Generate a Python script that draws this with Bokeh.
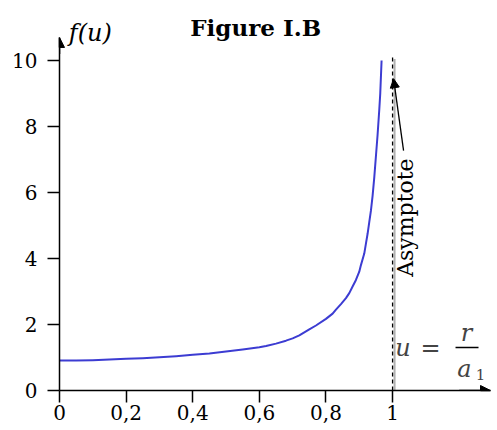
import math
from bokeh.plotting import figure
from bokeh.models import Label, Arrow, NormalHead, FixedTicker
from bokeh.embed import file_html
from bokeh.resources import INLINE

# data
u_vals = [0, 0.05, 0.1, 0.15, 0.2, 0.25, 0.3, 0.35, 0.4, 0.45, 0.5, 0.55, 0.6, 0.62,
          0.65, 0.68, 0.7, 0.72, 0.75, 0.77, 0.8, 0.82, 0.83, 0.845, 0.86, 0.87, 0.88,
          0.89, 0.9, 0.905, 0.915, 0.92, 0.925, 0.93, 0.935, 0.94, 0.945, 0.95, 0.955,
          0.96, 0.963, 0.967]
f_vals = [0.91, 0.91, 0.92, 0.94, 0.96, 0.98, 1.01, 1.04, 1.08, 1.12, 1.18, 1.24, 1.31, 1.35,
          1.42, 1.51, 1.58, 1.67, 1.85, 1.97, 2.17, 2.33, 2.45, 2.62, 2.8, 2.95, 3.15,
          3.35, 3.6, 3.8, 4.15, 4.45, 4.75, 5.1, 5.45, 5.9, 6.45, 7.1, 7.75,
          8.5, 9.0, 10.0]
x_ticks = [0, 0.2, 0.4, 0.6, 0.8, 1]
x_tick_labels = ["0", "0,2", "0,4", "0,6", "0,8", "1"]
y_ticks = [0, 2, 4, 6, 8, 10]
asymptote_u = 1.0

SERIF = "DejaVu Serif"
X_END = 1.294
Y_AXIS_END = 10.7
Y_TOP = 11.82

p = figure(width=494, height=426, x_range=(0, X_END), y_range=(0, Y_TOP),
           output_backend="svg", toolbar_location=None,
           min_border_left=59, min_border_right=4, min_border_top=0, min_border_bottom=36)
p.outline_line_color = None
p.grid.visible = False
p.background_fill_color = "white"

for ax in (p.xaxis[0], p.yaxis[0]):
    ax.axis_line_color = "black"
    ax.axis_line_width = 1.5
    ax.major_tick_in = 0
    ax.major_tick_out = 12
    ax.major_tick_line_width = 1.5
    ax.minor_tick_line_color = None
    ax.major_label_text_font = SERIF
    ax.major_label_text_font_size = "20px"
    ax.major_label_text_color = "black"

p.xaxis[0].ticker = FixedTicker(ticks=x_ticks)
p.xaxis[0].major_label_overrides = {t: l for t, l in zip(x_ticks, x_tick_labels)}
p.xaxis[0].major_label_standoff = 2
p.xaxis[0].bounds = (0, X_END)
p.yaxis[0].ticker = FixedTicker(ticks=y_ticks)
p.yaxis[0].major_label_standoff = 10
p.yaxis[0].bounds = (0, Y_AXIS_END)

# light gray strip under x axis
p.line([0, asymptote_u], [-0.06, -0.06], line_color="#c8c8c8", line_width=4)

# asymptote
p.line([asymptote_u + 0.006, asymptote_u + 0.006], [0, 10.05], line_color="#b0b0b0", line_width=2)
p.line([asymptote_u, asymptote_u], [0, 10.1], line_color="black", line_width=1.3, line_dash="4 3")

# curve
p.line(u_vals, f_vals, line_color="#3c3cd2", line_width=2, line_join="round")

# axis arrows
p.add_layout(Arrow(end=NormalHead(size=10, fill_color="black", line_color="black"),
                   x_start=1.2, y_start=0, x_end=X_END, y_end=0, line_width=1.5))
p.add_layout(Arrow(end=NormalHead(size=10, fill_color="black", line_color="black"),
                   x_start=0, y_start=10.2, x_end=0, y_end=Y_AXIS_END, line_width=1.5))

# asymptote arrow and label
p.add_layout(Arrow(end=NormalHead(size=9, fill_color="black", line_color="black"),
                   x_start=1.033, y_start=7.27, x_end=1.003, y_end=9.45, line_width=1.3))
p.add_layout(Label(x=1.038, y=5.24, text="Asymptote", angle=math.pi / 2,
                   text_align="center", text_baseline="middle",
                   text_font=SERIF, text_font_size="22px", text_color="black"))

# titles / labels
p.add_layout(Label(x=0.589, y=11.0, text="Figure I.B", text_align="center",
                   text_baseline="alphabetic", text_font=SERIF, text_font_style="bold",
                   text_font_size="23px", text_color="black"))
p.add_layout(Label(x=0.028, y=10.85, text="f(u)", text_align="left",
                   text_baseline="middle", text_font=SERIF, text_font_style="italic",
                   text_font_size="24px", text_color="black"))

p.add_layout(Label(x=1.008, y=1.3, text="u", text_align="left", text_baseline="middle",
                   text_font=SERIF, text_font_style="italic", text_font_size="24px"))
p.add_layout(Label(x=1.114, y=1.3, text="=", text_align="center", text_baseline="middle",
                   text_font=SERIF, text_font_size="24px"))
p.add_layout(Label(x=1.222, y=1.75, text="r", text_align="center", text_baseline="middle",
                   text_font=SERIF, text_font_style="italic", text_font_size="24px"))
p.line([1.189, 1.258], [1.30, 1.30], line_color="black", line_width=1.5)
p.add_layout(Label(x=1.216, y=0.66, text="a", text_align="center", text_baseline="middle",
                   text_font=SERIF, text_font_style="italic", text_font_size="24px"))
p.add_layout(Label(x=1.264, y=0.5, text="1", text_align="center", text_baseline="middle",
                   text_font=SERIF, text_font_size="15px"))

open("out.html", "w").write(file_html(p, INLINE))
